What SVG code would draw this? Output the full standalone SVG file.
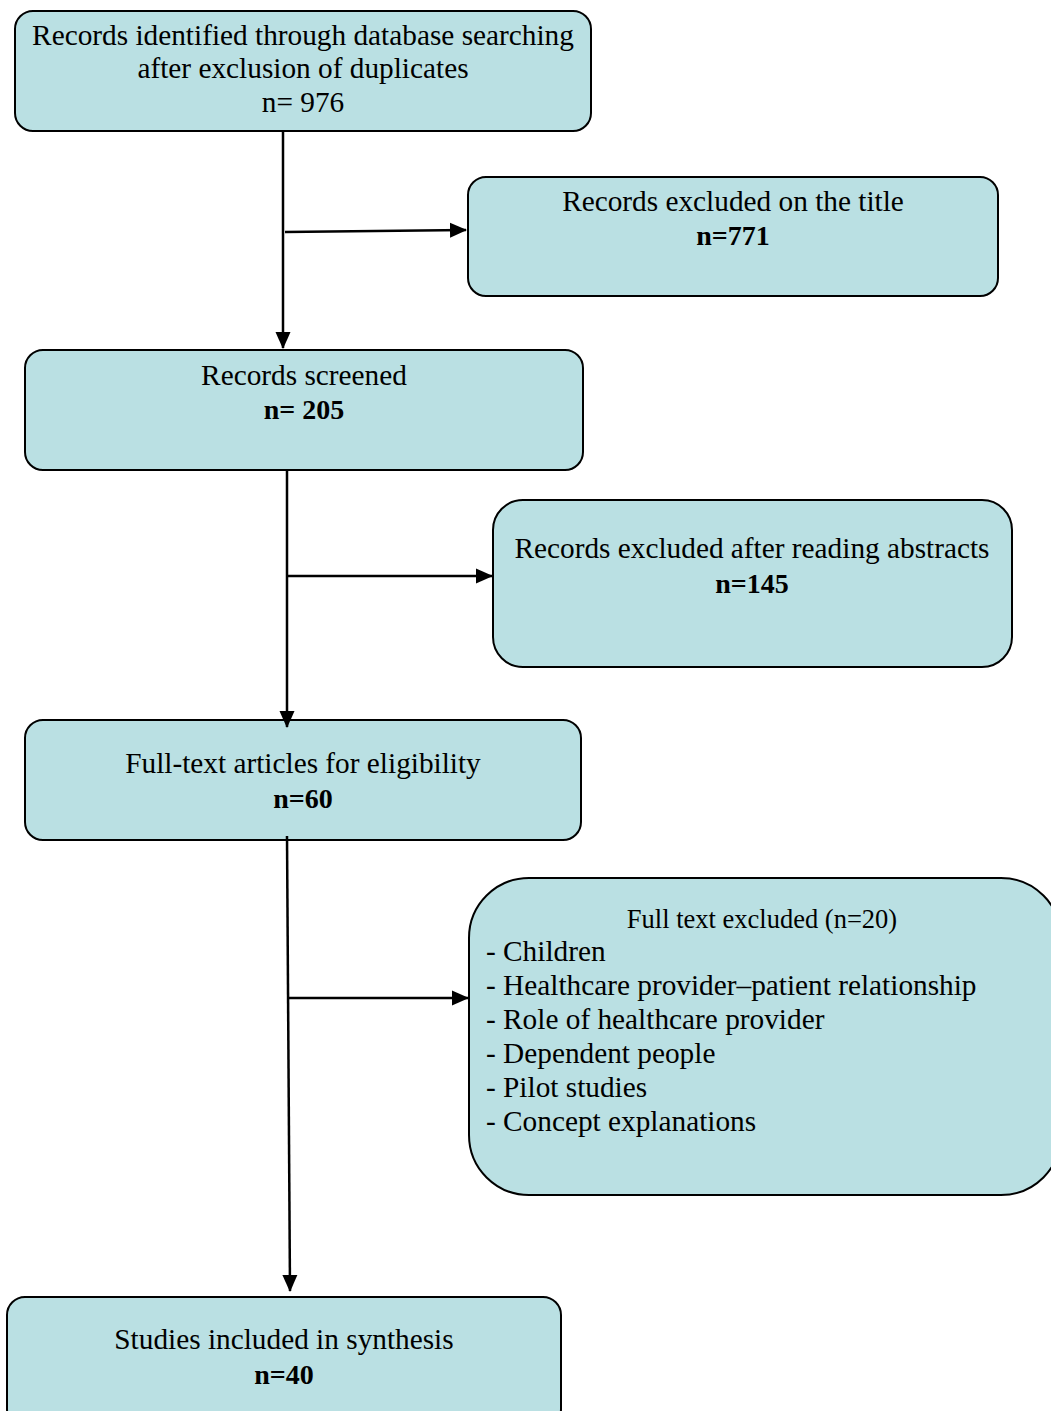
<svg xmlns="http://www.w3.org/2000/svg" width="1051" height="1411" viewBox="0 0 1051 1411">
<style>
.box{fill:#bae0e3;stroke:#000;stroke-width:2}
.t{font-family:"Liberation Serif","Times New Roman",serif;font-size:29.3px;fill:#000}
.c{text-anchor:middle}
.b{font-weight:bold;font-size:28px}
.conn line{stroke:#000;stroke-width:2.5}
</style>
<defs>
<marker id="ah" markerWidth="18" markerHeight="16" refX="16" refY="8" orient="auto" markerUnits="userSpaceOnUse">
<path d="M0,0.5 L17,8 L0,15.5 Z" fill="#000"/>
</marker>
</defs>
<rect width="1051" height="1411" fill="#fff"/>
<g id="n1">
<rect class="box" x="15" y="11" width="576" height="120" rx="18"/>
<text class="t c" x="303" y="45">Records identified through database searching</text>
<text class="t c" x="303" y="78">after exclusion of duplicates</text>
<text class="t c" x="303" y="112">n= 976</text>
</g>
<g id="n2">
<rect class="box" x="468" y="177" width="530" height="119" rx="18"/>
<text class="t c" x="733" y="211">Records excluded on the title</text>
<text class="t c b" x="733" y="245">n=771</text>
</g>
<g id="n3">
<rect class="box" x="25" y="350" width="558" height="120" rx="18"/>
<text class="t c" x="304" y="385">Records screened</text>
<text class="t c b" x="304" y="419">n= 205</text>
</g>
<g id="n4">
<rect class="box" x="493" y="500" width="519" height="167" rx="30"/>
<text class="t c" x="752" y="558">Records excluded after reading abstracts</text>
<text class="t c b" x="752" y="593">n=145</text>
</g>
<g id="n5">
<rect class="box" x="25" y="720" width="556" height="120" rx="18"/>
<text class="t c" x="303" y="773">Full-text articles for eligibility</text>
<text class="t c b" x="303" y="808">n=60</text>
</g>
<g id="n6">
<rect class="box" x="469" y="878" width="592" height="317" rx="60"/>
<text class="t c" x="762" y="928" style="font-size:26.5px">Full text excluded (n=20)</text>
<text class="t" x="486" y="961">- Children</text>
<text class="t" x="486" y="995">- Healthcare provider–patient relationship</text>
<text class="t" x="486" y="1029">- Role of healthcare provider</text>
<text class="t" x="486" y="1063">- Dependent people</text>
<text class="t" x="486" y="1097">- Pilot studies</text>
<text class="t" x="486" y="1131">- Concept explanations</text>
</g>
<g id="n7">
<rect class="box" x="7" y="1297" width="554" height="130" rx="18"/>
<text class="t c" x="284" y="1349">Studies included in synthesis</text>
<text class="t c b" x="284" y="1384">n=40</text>
</g>
<g class="conn">
<line x1="283" y1="132" x2="283" y2="348" marker-end="url(#ah)"/>
<line x1="285" y1="232" x2="466" y2="230" marker-end="url(#ah)"/>
<line x1="287" y1="469" x2="287" y2="727" marker-end="url(#ah)"/>
<line x1="288" y1="576" x2="492" y2="576" marker-end="url(#ah)"/>
<line x1="287" y1="836" x2="290" y2="1291" marker-end="url(#ah)"/>
<line x1="288" y1="998" x2="468" y2="998" marker-end="url(#ah)"/>
</g>
</svg>
